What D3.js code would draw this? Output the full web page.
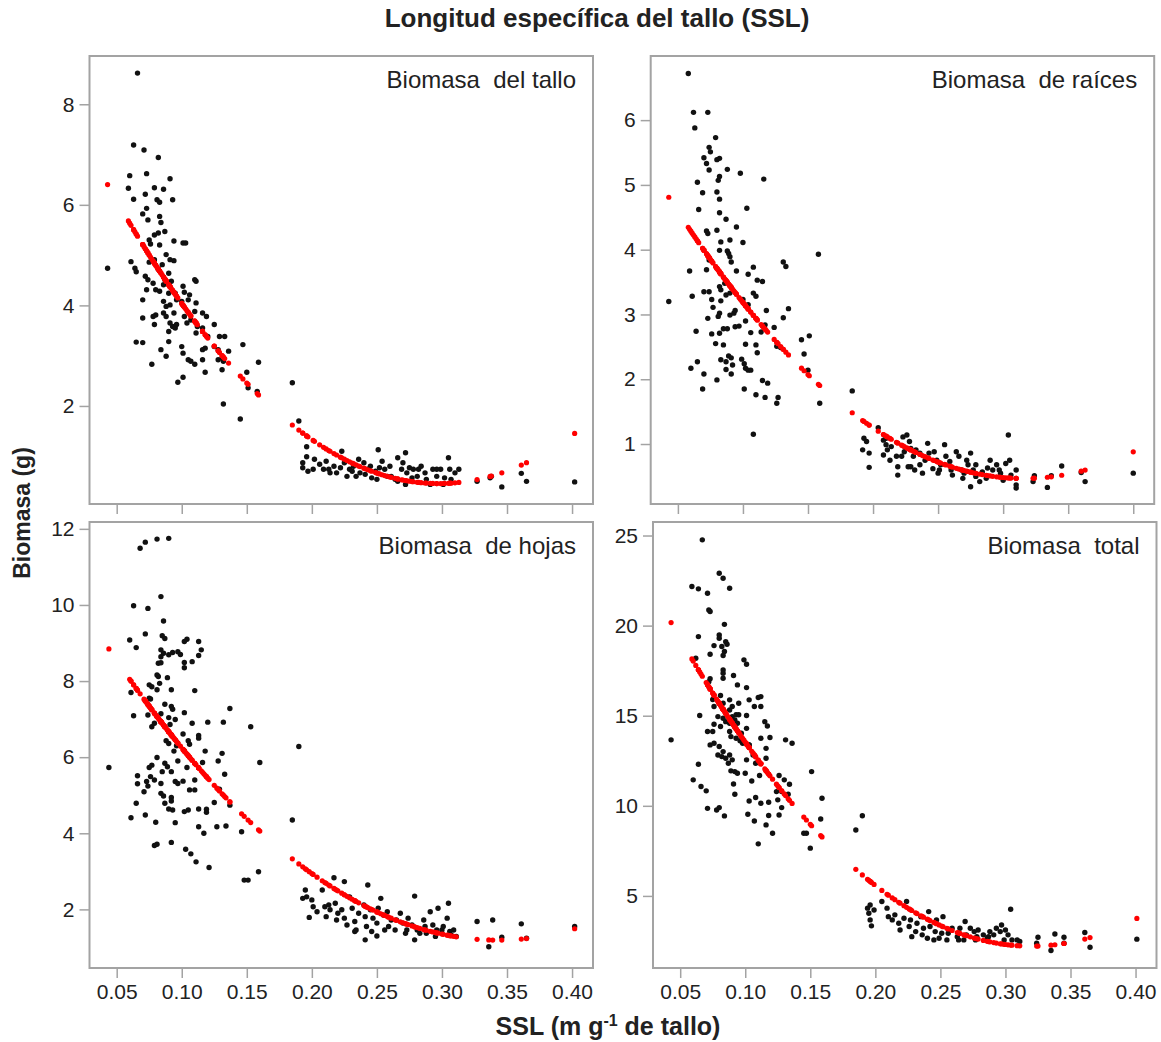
<!DOCTYPE html>
<html>
<head>
<meta charset="utf-8">
<script src="https://cdn.jsdelivr.net/npm/d3@7"></script>
<style>
  body { margin: 0; background: #fff; }
  text { font-family: Arial, "Liberation Sans", sans-serif; fill: #222; }
</style>
</head>
<body>
<svg id="chart" width="1161" height="1042"></svg>
<script>
// ---- data ----
const xTicks = [0.05, 0.10, 0.15, 0.20, 0.25, 0.30, 0.35, 0.40];
const stemTicks = [2, 4, 6, 8];
const rootTicks = [1, 2, 3, 4, 5, 6];
const leafTicks = [2, 4, 6, 8, 10, 12];
const totalTicks = [5, 10, 15, 20, 25];
const panelTitles = ["Biomasa  del tallo", "Biomasa  de raíces", "Biomasa  de hojas", "Biomasa  total"];

// [SSL, biomass]
const stem = [[0.066,8.62],[0.063,7.19],[0.071,7.09],[0.082,6.94],[0.060,6.58],[0.073,6.62],[0.091,6.52],[0.059,6.33],[0.079,6.34],[0.086,6.31],[0.072,6.21],[0.063,6.11],[0.081,6.10],[0.093,6.10],[0.083,6.05],[0.070,5.82],[0.073,5.93],[0.074,5.70],[0.083,5.77],[0.084,5.65],[0.043,4.74],[0.075,5.30],[0.079,5.40],[0.082,5.44],[0.087,5.47],[0.076,5.22],[0.083,5.20],[0.094,5.28],[0.101,5.24],[0.103,5.24],[0.061,4.87],[0.064,4.74],[0.065,4.67],[0.075,4.86],[0.079,4.91],[0.088,5.01],[0.091,4.91],[0.094,4.89],[0.085,4.81],[0.082,4.72],[0.090,4.64],[0.072,4.58],[0.074,4.51],[0.078,4.44],[0.080,4.31],[0.083,4.28],[0.086,4.41],[0.087,4.51],[0.092,4.48],[0.101,4.38],[0.110,4.51],[0.111,4.48],[0.073,4.31],[0.090,4.24],[0.095,4.24],[0.102,4.26],[0.106,4.21],[0.096,4.11],[0.100,4.08],[0.070,4.11],[0.086,4.08],[0.088,3.98],[0.091,4.01],[0.105,4.11],[0.111,4.05],[0.078,3.78],[0.080,3.81],[0.086,3.85],[0.088,3.78],[0.094,3.85],[0.102,3.78],[0.104,3.65],[0.110,3.88],[0.116,3.85],[0.119,3.78],[0.070,3.75],[0.079,3.62],[0.091,3.65],[0.093,3.58],[0.095,3.55],[0.096,3.62],[0.107,3.71],[0.112,3.58],[0.125,3.62],[0.090,3.48],[0.111,3.45],[0.116,3.55],[0.120,3.38],[0.129,3.38],[0.133,3.38],[0.065,3.27],[0.070,3.26],[0.090,3.28],[0.100,3.18],[0.116,3.12],[0.118,3.15],[0.125,3.18],[0.128,3.12],[0.136,3.09],[0.147,3.22],[0.084,3.12],[0.088,2.99],[0.101,3.05],[0.105,2.92],[0.107,2.89],[0.116,2.92],[0.128,2.92],[0.131,2.95],[0.132,2.89],[0.077,2.83],[0.110,2.83],[0.118,2.67],[0.131,2.72],[0.150,2.67],[0.159,2.87],[0.097,2.47],[0.101,2.57],[0.151,2.36],[0.158,2.29],[0.132,2.04],[0.145,1.74],
  [0.185,2.46],[0.190,1.70],[0.196,1.19],[0.196,0.99],[0.193,0.87],[0.193,0.77],[0.197,0.70],[0.202,0.94],[0.206,0.84],[0.211,0.90],[0.213,0.74],[0.217,0.80],[0.219,0.67],[0.223,1.10],[0.225,0.87],[0.229,0.74],[0.232,0.80],[0.236,0.94],[0.237,0.67],[0.240,0.87],[0.243,0.74],[0.245,0.80],[0.249,0.70],[0.250,0.54],[0.251,1.13],[0.254,0.90],[0.256,0.74],[0.258,0.60],[0.260,0.80],[0.264,0.54],[0.266,0.97],[0.269,0.74],[0.270,0.87],[0.272,1.07],[0.273,0.67],[0.275,0.77],[0.278,0.74],[0.281,0.60],[0.284,0.80],[0.287,0.67],[0.291,0.44],[0.293,0.74],[0.296,0.60],[0.299,0.74],[0.301,0.44],[0.305,0.97],[0.306,0.74],[0.310,0.67],[0.313,0.74],[0.327,0.50],[0.337,0.57],[0.338,0.60],[0.346,0.39],[0.361,0.66],[0.365,0.50],[0.402,0.49],[0.201,0.74],[0.209,0.74],[0.214,0.67],[0.222,0.77],[0.227,0.60],[0.231,0.70],[0.234,0.60],[0.241,0.64],[0.246,0.57],[0.252,0.77],[0.261,0.60],[0.266,0.50],[0.272,0.44],[0.277,0.57],[0.282,0.74],[0.288,0.54],[0.296,0.74],[0.302,0.57],[0.307,0.54]];

const root = [[0.058,6.72],[0.062,6.12],[0.073,6.12],[0.063,5.88],[0.079,5.73],[0.074,5.58],[0.075,5.51],[0.070,5.42],[0.080,5.39],[0.082,5.41],[0.072,5.33],[0.074,5.23],[0.088,5.24],[0.098,5.18],[0.116,5.09],[0.065,5.04],[0.082,5.13],[0.081,5.07],[0.069,4.88],[0.080,4.89],[0.082,4.78],[0.066,4.62],[0.103,4.64],[0.082,4.57],[0.087,4.47],[0.095,4.35],[0.072,4.29],[0.073,4.25],[0.080,4.30],[0.083,4.12],[0.090,4.15],[0.100,4.11],[0.082,3.99],[0.088,3.98],[0.090,3.89],[0.089,3.94],[0.091,3.81],[0.158,3.93],[0.059,3.67],[0.072,3.69],[0.074,3.84],[0.095,3.67],[0.104,3.62],[0.108,3.73],[0.111,3.53],[0.115,3.51],[0.131,3.81],[0.133,3.74],[0.082,3.43],[0.083,3.38],[0.086,3.48],[0.090,3.33],[0.087,3.30],[0.070,3.35],[0.074,3.35],[0.061,3.28],[0.076,3.23],[0.077,3.11],[0.083,3.21],[0.100,3.23],[0.104,3.15],[0.108,3.33],[0.110,3.28],[0.082,3.02],[0.081,2.97],[0.090,2.99],[0.093,3.02],[0.094,3.06],[0.073,2.94],[0.102,2.90],[0.118,3.06],[0.131,2.95],[0.135,3.09],[0.064,2.74],[0.076,2.70],[0.082,2.71],[0.085,2.78],[0.088,2.78],[0.094,2.81],[0.097,2.82],[0.106,2.72],[0.114,2.73],[0.117,2.84],[0.124,2.80],[0.145,2.61],[0.151,2.67],[0.079,2.55],[0.085,2.53],[0.102,2.54],[0.110,2.53],[0.111,2.41],[0.126,2.51],[0.129,2.49],[0.147,2.39],[0.083,2.30],[0.087,2.27],[0.089,2.36],[0.091,2.33],[0.092,2.22],[0.099,2.31],[0.101,2.24],[0.102,2.17],[0.104,2.14],[0.106,2.14],[0.060,2.17],[0.065,2.27],[0.070,2.08],[0.087,2.15],[0.091,2.08],[0.080,1.99],[0.115,1.98],[0.119,1.94],[0.150,2.14],[0.069,1.85],[0.101,1.85],[0.110,1.76],[0.117,1.72],[0.126,1.63],[0.127,1.72],[0.159,1.63],[0.108,1.15],[0.043,3.20],
  [0.184,1.82],[0.204,1.25],[0.193,1.09],[0.195,1.04],[0.192,0.91],[0.197,0.86],[0.197,0.64],[0.208,1.06],[0.210,0.99],[0.211,0.91],[0.214,0.96],[0.208,0.83],[0.213,0.75],[0.218,0.81],[0.219,0.65],[0.219,0.52],[0.223,1.11],[0.226,1.14],[0.228,1.04],[0.229,0.93],[0.224,0.88],[0.231,0.81],[0.233,0.91],[0.236,0.86],[0.229,0.65],[0.236,0.68],[0.238,0.55],[0.242,1.01],[0.243,0.86],[0.247,0.88],[0.249,0.75],[0.246,0.62],[0.251,0.60],[0.255,0.99],[0.256,0.81],[0.259,0.73],[0.260,0.60],[0.264,0.88],[0.266,0.81],[0.268,0.60],[0.269,0.47],[0.272,0.75],[0.273,0.68],[0.275,0.86],[0.277,0.60],[0.275,0.34],[0.279,0.50],[0.282,0.42],[0.284,0.57],[0.287,0.47],[0.290,0.75],[0.292,0.60],[0.295,0.68],[0.297,0.60],[0.300,0.44],[0.302,0.70],[0.304,1.14],[0.305,0.75],[0.310,0.60],[0.310,0.37],[0.310,0.32],[0.323,0.42],[0.324,0.51],[0.334,0.33],[0.337,0.51],[0.345,0.66],[0.360,0.56],[0.363,0.42],[0.400,0.55],[0.210,1.09],[0.222,0.81],[0.227,0.65],[0.232,0.60],[0.240,0.75],[0.250,0.55],[0.252,0.68],[0.261,0.52],[0.270,0.55],[0.279,0.68],[0.288,0.63],[0.298,0.55],[0.306,0.52]];

const leaf = [[0.068,11.49],[0.072,11.65],[0.081,11.73],[0.090,11.75],[0.063,9.98],[0.074,9.91],[0.084,10.22],[0.086,9.58],[0.060,9.08],[0.065,8.88],[0.072,9.24],[0.085,9.19],[0.087,9.12],[0.102,9.04],[0.104,9.10],[0.113,9.04],[0.115,8.82],[0.113,8.67],[0.084,8.82],[0.086,8.73],[0.084,8.64],[0.090,8.69],[0.093,8.75],[0.097,8.77],[0.099,8.70],[0.102,8.49],[0.102,8.35],[0.108,8.51],[0.082,8.47],[0.084,8.48],[0.081,8.16],[0.082,8.12],[0.089,8.09],[0.075,7.90],[0.077,7.85],[0.083,7.94],[0.081,7.77],[0.092,7.77],[0.110,7.75],[0.061,7.70],[0.075,7.55],[0.076,7.53],[0.087,7.39],[0.092,7.33],[0.093,7.26],[0.102,7.17],[0.137,7.28],[0.063,7.09],[0.074,7.11],[0.084,7.14],[0.090,7.04],[0.095,6.99],[0.091,6.86],[0.077,6.80],[0.079,6.89],[0.108,6.89],[0.120,6.92],[0.132,6.92],[0.153,6.80],[0.101,6.61],[0.113,6.57],[0.113,6.50],[0.105,6.43],[0.106,6.34],[0.088,6.43],[0.090,6.36],[0.096,6.30],[0.094,6.16],[0.118,6.16],[0.131,6.10],[0.160,5.86],[0.044,5.73],[0.081,5.99],[0.077,5.79],[0.075,5.73],[0.087,5.84],[0.089,5.75],[0.085,5.62],[0.097,5.90],[0.104,5.73],[0.116,5.86],[0.128,5.90],[0.133,5.55],[0.066,5.51],[0.066,5.30],[0.073,5.36],[0.074,5.24],[0.071,5.09],[0.076,5.49],[0.079,5.40],[0.084,5.31],[0.092,5.62],[0.095,5.36],[0.097,5.31],[0.101,5.37],[0.106,5.14],[0.110,5.14],[0.110,5.40],[0.129,5.16],[0.065,4.79],[0.084,5.05],[0.086,4.98],[0.092,4.94],[0.092,4.85],[0.087,4.79],[0.090,4.64],[0.093,4.61],[0.102,4.57],[0.105,4.61],[0.113,4.64],[0.119,4.63],[0.119,4.55],[0.125,4.81],[0.137,4.74],[0.061,4.41],[0.072,4.48],[0.080,4.29],[0.095,4.28],[0.113,4.17],[0.117,4.00],[0.127,4.17],[0.134,4.19],[0.146,4.04],[0.079,3.68],[0.081,3.71],[0.092,3.76],[0.103,3.58],[0.107,3.46],[0.111,3.25],[0.121,3.10],[0.148,2.77],[0.151,2.77],[0.159,2.99],
  [0.185,4.35],[0.190,6.28],[0.195,2.51],[0.196,2.33],[0.200,2.25],[0.193,2.29],[0.208,2.51],[0.210,2.07],[0.213,2.12],[0.214,1.99],[0.217,2.83],[0.218,2.16],[0.220,1.90],[0.223,1.99],[0.225,2.73],[0.225,1.77],[0.229,2.33],[0.231,2.03],[0.233,1.68],[0.236,1.90],[0.240,2.12],[0.241,1.81],[0.242,1.55],[0.243,2.64],[0.245,1.99],[0.247,1.77],[0.250,1.64],[0.251,2.03],[0.253,2.29],[0.255,1.85],[0.258,1.94],[0.259,1.55],[0.261,1.72],[0.264,1.46],[0.268,1.90],[0.270,1.64],[0.272,1.37],[0.274,1.77],[0.277,1.59],[0.279,1.20],[0.279,2.35],[0.281,1.46],[0.286,1.72],[0.287,1.55],[0.288,1.37],[0.291,1.94],[0.293,1.59],[0.295,1.29],[0.297,2.03],[0.300,1.46],[0.301,1.55],[0.304,1.77],[0.305,2.16],[0.306,1.42],[0.309,1.46],[0.311,1.29],[0.241,1.20],[0.233,1.42],[0.250,1.30],[0.198,1.79],[0.327,1.68],[0.339,1.72],[0.336,1.02],[0.346,1.27],[0.361,1.62],[0.365,1.24],[0.402,1.55],[0.201,2.07],[0.204,1.94],[0.211,1.81],[0.219,1.72],[0.227,1.59],[0.234,1.46],[0.246,1.42],[0.256,1.46],[0.265,1.72],[0.273,1.46],[0.283,1.37],[0.296,1.46],[0.307,1.33]];

const total = [[0.067,24.76],[0.080,22.91],[0.083,22.63],[0.059,22.17],[0.064,22.04],[0.071,21.80],[0.088,22.07],[0.072,20.87],[0.073,20.78],[0.084,20.07],[0.064,19.39],[0.080,19.48],[0.080,19.30],[0.085,19.11],[0.086,18.97],[0.076,18.89],[0.073,18.41],[0.082,18.84],[0.084,18.56],[0.083,18.34],[0.062,18.19],[0.083,17.54],[0.083,17.36],[0.099,18.10],[0.101,17.86],[0.091,17.23],[0.073,17.05],[0.072,16.89],[0.094,16.71],[0.101,16.56],[0.083,17.08],[0.075,15.90],[0.076,15.51],[0.081,16.12],[0.083,15.69],[0.088,15.88],[0.090,15.51],[0.095,15.69],[0.103,15.88],[0.110,16.01],[0.112,16.06],[0.107,15.51],[0.112,15.51],[0.088,15.32],[0.090,14.95],[0.093,15.05],[0.101,15.01],[0.095,15.05],[0.065,15.01],[0.071,14.12],[0.075,14.12],[0.076,14.53],[0.081,14.40],[0.083,14.86],[0.085,14.67],[0.088,14.58],[0.092,14.77],[0.094,14.58],[0.097,14.03],[0.101,14.30],[0.079,14.95],[0.088,14.12],[0.089,13.84],[0.093,13.75],[0.096,13.61],[0.098,13.47],[0.103,13.38],[0.112,13.75],[0.115,14.67],[0.117,14.43],[0.119,13.79],[0.131,13.66],[0.136,13.47],[0.073,13.38],[0.076,13.47],[0.080,13.29],[0.083,13.01],[0.079,12.82],[0.082,12.73],[0.085,12.64],[0.088,12.82],[0.090,12.55],[0.087,12.36],[0.089,11.94],[0.092,11.90],[0.094,11.81],[0.100,11.81],[0.103,13.38],[0.101,12.55],[0.106,12.82],[0.108,12.36],[0.116,12.64],[0.116,13.19],[0.064,12.31],[0.091,11.21],[0.092,10.64],[0.105,11.38],[0.111,11.68],[0.126,11.68],[0.130,11.44],[0.134,11.20],[0.151,11.90],[0.124,10.79],[0.128,10.79],[0.125,10.33],[0.133,10.64],[0.060,11.44],[0.066,11.07],[0.070,10.83],[0.071,9.86],[0.078,9.77],[0.080,9.90],[0.084,9.44],[0.103,10.27],[0.108,10.46],[0.112,10.14],[0.118,10.20],[0.128,9.90],[0.159,10.42],[0.102,9.53],[0.107,9.16],[0.116,8.94],[0.118,9.46],[0.121,8.48],[0.126,9.49],[0.145,8.48],[0.147,8.48],[0.158,9.27],[0.110,7.89],[0.150,7.65],[0.043,13.66],
  [0.185,8.66],[0.190,9.45],[0.194,4.32],[0.195,4.04],[0.196,4.50],[0.196,3.67],[0.197,3.34],[0.199,4.22],[0.205,4.69],[0.209,4.32],[0.210,3.85],[0.213,3.67],[0.215,3.95],[0.218,3.48],[0.222,3.76],[0.224,4.69],[0.226,3.30],[0.227,3.67],[0.231,3.02],[0.232,3.48],[0.235,3.85],[0.237,3.21],[0.240,2.65],[0.241,4.13],[0.242,3.30],[0.246,3.02],[0.247,3.67],[0.249,2.65],[0.251,2.93],[0.252,3.85],[0.256,2.93],[0.259,3.21],[0.263,2.74],[0.265,3.21],[0.269,3.58],[0.270,2.84],[0.273,3.21],[0.276,3.02],[0.277,2.56],[0.279,3.11],[0.283,2.84],[0.286,2.65],[0.288,3.02],[0.291,2.84],[0.293,3.21],[0.296,3.02],[0.297,3.39],[0.300,3.11],[0.302,2.84],[0.305,2.56],[0.304,4.26],[0.309,2.56],[0.311,2.47],[0.324,2.37],[0.325,2.71],[0.335,1.97],[0.338,2.89],[0.345,2.37],[0.345,2.71],[0.361,2.97],[0.365,2.15],[0.401,2.60],[0.219,3.11],[0.228,2.74],[0.236,2.84],[0.245,2.56],[0.255,2.56],[0.264,2.56],[0.268,2.56],[0.278,2.74],[0.287,2.74],[0.299,2.56]];

// ---- layout ----
const svg = d3.select("#chart");
const xDomain = [0.0291, 0.4161];
const panels = [
  {data: stem,  ticks: stemTicks,  title: panelTitles[0], x0: 89.5,  y0: 56,  w: 503.5, h: 448, yDomain: [0.05, 8.96],  xLabels: false},
  {data: root,  ticks: rootTicks,  title: panelTitles[1], x0: 650.7, y0: 56,  w: 503.5, h: 448, yDomain: [0.074, 6.99], xLabels: false},
  {data: leaf,  ticks: leafTicks,  title: panelTitles[2], x0: 89.5,  y0: 522, w: 503.5, h: 446, yDomain: [0.46, 12.18], xLabels: true},
  {data: total, ticks: totalTicks, title: panelTitles[3], x0: 653,   y0: 522, w: 503.5, h: 446, yDomain: [1.0, 25.75],  xLabels: true}
];

// least-squares quadratic (the red fitted values)
function quadFit(pts) {
  let s = [0, 0, 0, 0, 0], t = [0, 0, 0];
  pts.forEach(([x, y]) => {
    for (let k = 0; k < 5; k++) s[k] += Math.pow(x, k);
    for (let k = 0; k < 3; k++) t[k] += y * Math.pow(x, k);
  });
  const A = [[s[0], s[1], s[2], t[0]], [s[1], s[2], s[3], t[1]], [s[2], s[3], s[4], t[2]]];
  for (let i = 0; i < 3; i++) {
    for (let j = i + 1; j < 3; j++) {
      const f = A[j][i] / A[i][i];
      for (let k = i; k < 4; k++) A[j][k] -= f * A[i][k];
    }
  }
  const c = [0, 0, 0];
  for (let i = 2; i >= 0; i--) {
    let v = A[i][3];
    for (let k = i + 1; k < 3; k++) v -= A[i][k] * c[k];
    c[i] = v / A[i][i];
  }
  return x => c[0] + c[1] * x + c[2] * x * x;
}

const frameColor = "#a3a3a3";

panels.forEach(p => {
  const x = d3.scaleLinear().domain(xDomain).range([p.x0, p.x0 + p.w]);
  const y = d3.scaleLinear().domain(p.yDomain).range([p.y0 + p.h, p.y0]);
  const g = svg.append("g");

  // axes
  const xAxis = d3.axisBottom(x).tickValues(xTicks).tickSize(10).tickPadding(6)
    .tickFormat(p.xLabels ? d3.format(".2f") : "");
  const gx = g.append("g").attr("transform", `translate(0,${p.y0 + p.h})`).call(xAxis);
  const gy = g.append("g").attr("transform", `translate(${p.x0},0)`)
    .call(d3.axisLeft(y).tickValues(p.ticks).tickSize(10).tickPadding(5).tickFormat(d3.format("d")));
  [gx, gy].forEach(a => {
    a.select(".domain").remove();
    a.selectAll(".tick line").attr("stroke", frameColor).attr("stroke-width", 1.5);
    a.selectAll(".tick text").style("font-size", "21px").attr("fill", "#222");
  });

  // frame
  g.append("rect")
    .attr("x", p.x0).attr("y", p.y0).attr("width", p.w).attr("height", p.h)
    .attr("fill", "none").attr("stroke", frameColor).attr("stroke-width", 2);

  // observed points
  g.append("g").selectAll("circle").data(p.data).join("circle")
    .attr("cx", d => x(d[0])).attr("cy", d => y(d[1])).attr("r", 2.7).attr("fill", "#111");

  // fitted values
  const fit = quadFit(p.data);
  g.append("g").selectAll("circle").data(p.data).join("circle")
    .attr("cx", d => x(d[0])).attr("cy", d => y(fit(d[0]))).attr("r", 2.6).attr("fill", "#f00");

  g.append("text").text(p.title)
    .attr("x", p.x0 + p.w - 17).attr("y", p.y0 + 32)
    .attr("text-anchor", "end").style("font-size", "24px").style("white-space", "pre")
    .attr("xml:space", "preserve");
});

// titles
svg.append("text").text("Longitud específica del tallo (SSL)")
  .attr("x", 597).attr("y", 27).attr("text-anchor", "middle")
  .style("font-size", "26px").style("font-weight", "bold");

svg.append("text").text("Biomasa (g)")
  .attr("transform", "translate(30,513) rotate(-90)").attr("text-anchor", "middle")
  .style("font-size", "23px").style("font-weight", "bold");

const xl = svg.append("text").attr("x", 608).attr("y", 1035).attr("text-anchor", "middle")
  .style("font-size", "25px").style("font-weight", "bold");
xl.append("tspan").text("SSL (m g");
xl.append("tspan").text("-1").attr("dy", -9).style("font-size", "16px");
xl.append("tspan").text(" de tallo)").attr("dy", 9);
</script>
</body>
</html>
